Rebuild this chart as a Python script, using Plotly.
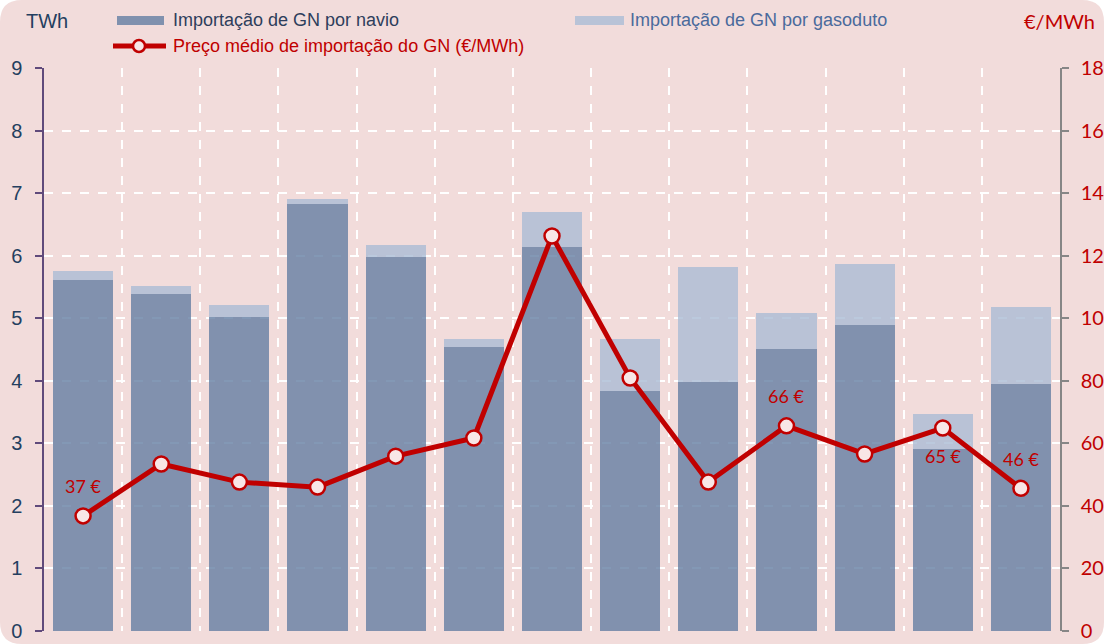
import plotly.graph_objects as go

# ---------------- data ----------------
categories = list(range(13))  # 13 consecutive periods (labels cut off in the reference)
navio = [5.61, 5.39, 5.02, 6.83, 5.98, 4.54, 6.14, 3.84, 3.98, 4.51, 4.89, 2.91, 3.95]
gasoduto = [0.14, 0.12, 0.19, 0.08, 0.19, 0.13, 0.56, 0.83, 1.84, 0.57, 0.98, 0.56, 1.23]
preco = [36.8, 53.4, 47.6, 46.0, 55.9, 61.7, 126.3, 80.9, 47.6, 65.6, 56.6, 64.9, 45.6]
label_idx = [0, 9, 11, 12]
label_shift = [30, 30, -28, 29]
left_ticks = list(range(0, 10))
right_ticks = list(range(0, 181, 20))

# ---------------- geometry ----------------
W, H = 1104, 644
ML, MR, MT, MB = 44, 44, 68, 13
PW, PH = W - ML - MR, H - MT - MB


def px(x):
    return (x - ML) / PW


def py(y):
    return (H - MB - y) / PH


PINK = "#F2DCDB"
DARK = "rgba(100,126,163,0.8)"
LIGHT = "rgba(170,188,213,0.8)"
RED = "#C00000"
NAVY = "#243F60"

fig = go.Figure()
fig.add_trace(go.Bar(x=categories, y=navio, marker=dict(color=DARK, line=dict(width=0)),
                     name="Importação de GN por navio", yaxis="y"))
fig.add_trace(go.Bar(x=categories, y=gasoduto, marker=dict(color=LIGHT, line=dict(width=0)),
                     name="Importação de GN por gasoduto", yaxis="y"))
fig.add_trace(go.Scatter(x=categories, y=preco, yaxis="y2", mode="lines+markers",
                         line=dict(color=RED, width=5),
                         marker=dict(size=15, color="#F8E6E6", line=dict(color=RED, width=2.5)),
                         name="Preço médio de importação do GN (€/MWh)"))

annotations = []
for i, s in zip(label_idx, label_shift):
    annotations.append(dict(x=categories[i], y=preco[i], xref="x", yref="y2",
                            text=f"{round(preco[i])} €", showarrow=False, yshift=s,
                            font=dict(family="Lato, Open Sans, sans-serif", size=18, color=RED)))

# header texts
annotations += [
    dict(x=px(24), y=py(21), xref="paper", yref="paper", text="TWh", showarrow=False,
         xanchor="left", yanchor="middle", font=dict(family="Liberation Sans, Arial", size=20, color=NAVY)),
    dict(x=px(1097), y=py(21), xref="paper", yref="paper", text="€/MWh", showarrow=False,
         xanchor="right", yanchor="middle", font=dict(family="Lato, sans-serif", size=20, color=RED)),
    dict(x=px(171), y=py(20), xref="paper", yref="paper", text="Importação de GN por navio",
         showarrow=False, xanchor="left", yanchor="middle",
         font=dict(family="Liberation Sans, Arial", size=18, color="#2E3E5C")),
    dict(x=px(628), y=py(20), xref="paper", yref="paper", text="Importação de GN por gasoduto",
         showarrow=False, xanchor="left", yanchor="middle",
         font=dict(family="Liberation Sans, Arial", size=18, color="#4A6A9C")),
    dict(x=px(171), y=py(46), xref="paper", yref="paper", text="Preço médio de importação do GN (€/MWh)",
         showarrow=False, xanchor="left", yanchor="middle",
         font=dict(family="Liberation Sans, Arial", size=18, color=RED)),
]

# rounded pink background
r = 22
x0, x1, y0, y1 = 0, W, 0, H
pts = (f"M {px(x0 + r)} {py(y0)} L {px(x1 - r)} {py(y0)} Q {px(x1)} {py(y0)} {px(x1)} {py(y0 + r)} "
       f"L {px(x1)} {py(y1 - r)} Q {px(x1)} {py(y1)} {px(x1 - r)} {py(y1)} "
       f"L {px(x0 + r)} {py(y1)} Q {px(x0)} {py(y1)} {px(x0)} {py(y1 - r)} "
       f"L {px(x0)} {py(y0 + r)} Q {px(x0)} {py(y0)} {px(x0 + r)} {py(y0)} Z")
shapes = [
    dict(type="path", path=pts, xref="paper", yref="paper", fillcolor=PINK, line=dict(width=0), layer="below"),
    # legend swatches
    dict(type="rect", xref="paper", yref="paper", x0=px(117), x1=px(164), y0=py(25), y1=py(16),
         fillcolor="#8091AE", line=dict(width=0)),
    dict(type="rect", xref="paper", yref="paper", x0=px(575), x1=px(624), y0=py(25), y1=py(16),
         fillcolor="#B9C3D7", line=dict(width=0)),
    dict(type="line", xref="paper", yref="paper", x0=px(113), x1=px(166), y0=py(46), y1=py(46),
         line=dict(color=RED, width=5)),
    dict(type="circle", xref="paper", yref="paper", xsizemode="pixel", ysizemode="pixel",
         xanchor=px(139), yanchor=py(46), x0=-6, x1=6, y0=-6, y1=6,
         fillcolor="#F8E6E6", line=dict(color=RED, width=2.5)),
]

fig.update_layout(
    width=W, height=H,
    margin=dict(l=ML, r=MR, t=MT, b=MB, autoexpand=False),
    paper_bgcolor="white", plot_bgcolor="rgba(0,0,0,0)",
    barmode="stack", bargap=0.23, showlegend=False,
    annotations=annotations, shapes=shapes,
    xaxis=dict(range=[-0.5, 12.5], tickvals=[i + 0.5 for i in range(12)], showticklabels=False,
               showgrid=True, gridcolor="white", griddash="dash", gridwidth=1.5,
               zeroline=False, showline=False, ticks=""),
    yaxis=dict(range=[0, 9], tickvals=left_ticks, showgrid=True, gridcolor="white",
               griddash="dash", gridwidth=1.5, zeroline=False, showline=True, linecolor="#604A7B",
               linewidth=1.5, ticks="outside", ticklen=7, tickcolor="#604A7B", tickwidth=1.5,
               ticklabelstandoff=9,
               tickfont=dict(family="Liberation Sans, Arial", size=20, color=NAVY), automargin=False),
    yaxis2=dict(range=[0, 180], tickvals=right_ticks, overlaying="y", side="right", showgrid=False,
                zeroline=False, showline=True, linecolor="#868686", linewidth=1.5,
                ticks="outside", ticklen=7, tickcolor="#868686", tickwidth=1.5,
                ticklabelstandoff=8,
                tickfont=dict(family="Lato, sans-serif", size=20, color=RED), automargin=False),
)

fig.write_html("out.html", config={"displayModeBar": False},
               post_script="document.body.style.margin='0';document.body.style.padding='0';")
